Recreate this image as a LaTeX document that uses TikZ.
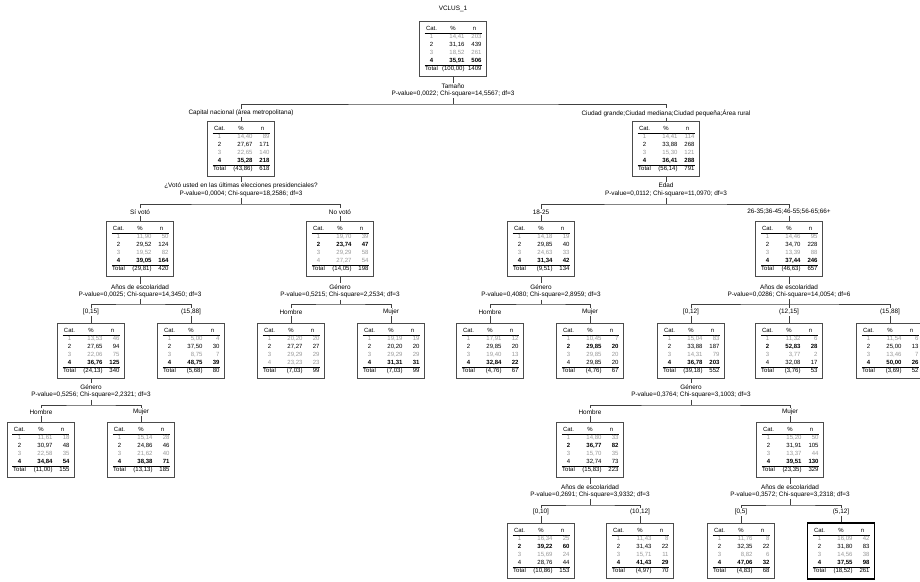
\documentclass[tikz,border=0pt]{standalone}
\usepackage{fontspec}
\setmainfont{Liberation Sans}
\usepackage{array}

\definecolor{catgray}{gray}{0.6}
\setlength{\tabcolsep}{1.5pt}

% rows of a node table: grey, black, bold
\newcommand{\rg}[3]{\textcolor{catgray}{#1} & \textcolor{catgray}{#2} & \textcolor{catgray}{#3}\\}
\newcommand{\rk}[3]{#1 & #2 & #3\\}
\newcommand{\rb}[3]{\textbf{#1} & \textbf{#2} & \textbf{#3}\\}
\newcommand{\cattab}[6]{%
  \begin{tabular}{@{}w{c}{14pt}w{r}{23pt}w{r}{14pt}@{}}
    Cat. & \multicolumn{1}{c}{\%} & \multicolumn{1}{c@{}}{n}\\\hline
    #1#2#3#4\hline
    Total & (#5) & #6
  \end{tabular}}

\tikzset{
  catnode/.style={draw=black!70, line width=0.9pt, fill=white, inner xsep=5pt, inner ysep=4pt,
    font=\fontsize{6}{7.8}\selectfont},
  lastnode/.style={catnode, draw=black, line width=1.8pt},
  splitlab/.style={align=center, inner sep=1pt, font=\fontsize{6.4}{7.6}\selectfont},
  brlab/.style={inner sep=1pt, font=\fontsize{6.4}{7.6}\selectfont},
  conn/.style={draw=black!75, line width=0.6pt}
}

\begin{document}
\begin{tikzpicture}[x=1pt,y=-1pt]
  \useasboundingbox (0,0) rectangle (920,581);
  % Title
  \node[brlab] (title) at (453,9) {VCLUS\_1};
  % Nodes
  \node[catnode] (n0) at (453,49) {\cattab{\rg{1}{14,41}{203}}{\rk{2}{31,16}{439}}{\rg{3}{18,52}{261}}{\rb{4}{35,91}{506}}{100,00}{1409}};
  \node[catnode] (n1) at (241,149) {\cattab{\rg{1}{14,40}{89}}{\rk{2}{27,67}{171}}{\rg{3}{22,65}{140}}{\rb{4}{35,28}{218}}{43,86}{618}};
  \node[catnode] (n2) at (666,149) {\cattab{\rg{1}{14,41}{114}}{\rk{2}{33,88}{268}}{\rg{3}{15,30}{121}}{\rb{4}{36,41}{288}}{56,14}{791}};
  \node[catnode] (n3) at (140,249) {\cattab{\rg{1}{11,90}{50}}{\rk{2}{29,52}{124}}{\rg{3}{19,52}{82}}{\rb{4}{39,05}{164}}{29,81}{420}};
  \node[catnode] (n4) at (340,249) {\cattab{\rg{1}{19,70}{39}}{\rb{2}{23,74}{47}}{\rg{3}{29,29}{58}}{\rg{4}{27,27}{54}}{14,05}{198}};
  \node[catnode] (n5) at (541,249) {\cattab{\rg{1}{14,18}{19}}{\rk{2}{29,85}{40}}{\rg{3}{24,63}{33}}{\rb{4}{31,34}{42}}{9,51}{134}};
  \node[catnode] (n6) at (789,249) {\cattab{\rg{1}{14,46}{95}}{\rk{2}{34,70}{228}}{\rg{3}{13,39}{88}}{\rb{4}{37,44}{246}}{46,63}{657}};
  \node[catnode] (n7) at (91,351) {\cattab{\rg{1}{13,53}{46}}{\rk{2}{27,65}{94}}{\rg{3}{22,06}{75}}{\rb{4}{36,76}{125}}{24,13}{340}};
  \node[catnode] (n8) at (191,351) {\cattab{\rg{1}{5,00}{4}}{\rk{2}{37,50}{30}}{\rg{3}{8,75}{7}}{\rb{4}{48,75}{39}}{5,68}{80}};
  \node[catnode] (n9) at (291,351) {\cattab{\rg{1}{20,20}{20}}{\rk{2}{27,27}{27}}{\rg{3}{29,29}{29}}{\rg{4}{23,23}{23}}{7,03}{99}};
  \node[catnode] (n10) at (391,351) {\cattab{\rg{1}{19,19}{19}}{\rk{2}{20,20}{20}}{\rg{3}{29,29}{29}}{\rb{4}{31,31}{31}}{7,03}{99}};
  \node[catnode] (n11) at (490,351) {\cattab{\rg{1}{17,91}{12}}{\rk{2}{29,85}{20}}{\rg{3}{19,40}{13}}{\rb{4}{32,84}{22}}{4,76}{67}};
  \node[catnode] (n12) at (590,351) {\cattab{\rg{1}{10,45}{7}}{\rb{2}{29,85}{20}}{\rg{3}{29,85}{20}}{\rk{4}{29,85}{20}}{4,76}{67}};
  \node[catnode] (n13) at (691,351) {\cattab{\rg{1}{15,04}{83}}{\rk{2}{33,88}{187}}{\rg{3}{14,31}{79}}{\rb{4}{36,78}{203}}{39,18}{552}};
  \node[catnode] (n14) at (789,351) {\cattab{\rg{1}{11,32}{6}}{\rb{2}{52,83}{28}}{\rg{3}{3,77}{2}}{\rk{4}{32,08}{17}}{3,76}{53}};
  \node[catnode] (n15) at (890,351) {\cattab{\rg{1}{11,54}{6}}{\rk{2}{25,00}{13}}{\rg{3}{13,46}{7}}{\rb{4}{50,00}{26}}{3,69}{52}};
  \node[catnode] (n16) at (41,450) {\cattab{\rg{1}{11,61}{18}}{\rk{2}{30,97}{48}}{\rg{3}{22,58}{35}}{\rb{4}{34,84}{54}}{11,00}{155}};
  \node[catnode] (n17) at (141,450) {\cattab{\rg{1}{15,14}{28}}{\rk{2}{24,86}{46}}{\rg{3}{21,62}{40}}{\rb{4}{38,38}{71}}{13,13}{185}};
  \node[catnode] (n18) at (590,450) {\cattab{\rg{1}{14,80}{33}}{\rb{2}{36,77}{82}}{\rg{3}{15,70}{35}}{\rk{4}{32,74}{73}}{15,83}{223}};
  \node[catnode] (n19) at (790,450) {\cattab{\rg{1}{15,20}{50}}{\rk{2}{31,91}{105}}{\rg{3}{13,37}{44}}{\rb{4}{39,51}{130}}{23,35}{329}};
  \node[catnode] (n20) at (541,551) {\cattab{\rg{1}{16,34}{25}}{\rb{2}{39,22}{60}}{\rg{3}{15,69}{24}}{\rk{4}{28,76}{44}}{10,86}{153}};
  \node[catnode] (n21) at (640,551) {\cattab{\rg{1}{11,43}{8}}{\rk{2}{31,43}{22}}{\rg{3}{15,71}{11}}{\rb{4}{41,43}{29}}{4,97}{70}};
  \node[catnode] (n22) at (741,551) {\cattab{\rg{1}{11,76}{8}}{\rk{2}{32,35}{22}}{\rg{3}{8,82}{6}}{\rb{4}{47,06}{32}}{4,83}{68}};
  \node[lastnode] (n23) at (841,551) {\cattab{\rg{1}{16,09}{42}}{\rk{2}{31,80}{83}}{\rg{3}{14,56}{38}}{\rb{4}{37,55}{98}}{18,52}{261}};
  % Split labels
  \node[splitlab] (s0) at (453,90.5) {Tamaño\\P-value=0,0022; Chi-square=14,5567; df=3};
  \node[splitlab] (s1) at (241,190) {¿Votó usted en las últimas elecciones presidenciales?\\P-value=0,0004; Chi-square=18,2586; df=3};
  \node[splitlab] (s2) at (666,190) {Edad\\P-value=0,0112; Chi-square=11,0970; df=3};
  \node[splitlab] (s3) at (140,291.5) {Años de escolaridad\\P-value=0,0025; Chi-square=14,3450; df=3};
  \node[splitlab] (s4) at (340,291.5) {Género\\P-value=0,5215; Chi-square=2,2534; df=3};
  \node[splitlab] (s5) at (541,291.5) {Género\\P-value=0,4080; Chi-square=2,8959; df=3};
  \node[splitlab] (s6) at (789,291.5) {Años de escolaridad\\P-value=0,0286; Chi-square=14,0054; df=6};
  \node[splitlab] (s7) at (91,391.5) {Género\\P-value=0,5256; Chi-square=2,2321; df=3};
  \node[splitlab] (s13) at (691,391.5) {Género\\P-value=0,3764; Chi-square=3,1003; df=3};
  \node[splitlab] (s18) at (590,491.5) {Años de escolaridad\\P-value=0,2691; Chi-square=3,9332; df=3};
  \node[splitlab] (s19) at (790,491.5) {Años de escolaridad\\P-value=0,3572; Chi-square=3,2318; df=3};
  % Branch labels
  \node[brlab] (b1) at (241,113) {Capital nacional (área metropolitana)};
  \node[brlab] (b2) at (666,113) {Ciudad grande;Ciudad mediana;Ciudad pequeña;Área rural};
  \node[brlab] (b3) at (140,212) {Sí votó};
  \node[brlab] (b4) at (340,212) {No votó};
  \node[brlab] (b5) at (541,212) {18-25};
  \node[brlab] (b6) at (789,212) {26-35;36-45;46-55;56-65;66+};
  \node[brlab] (b7) at (91,312) {[0,15]};
  \node[brlab] (b8) at (191,312) {(15,88]};
  \node[brlab] (b9) at (291,312) {Hombre};
  \node[brlab] (b10) at (391,312) {Mujer};
  \node[brlab] (b11) at (490,312) {Hombre};
  \node[brlab] (b12) at (590,312) {Mujer};
  \node[brlab] (b13) at (691,312) {[0,12]};
  \node[brlab] (b14) at (789,312) {(12,15]};
  \node[brlab] (b15) at (890,312) {(15,88]};
  \node[brlab] (b16) at (41,412) {Hombre};
  \node[brlab] (b17) at (141,412) {Mujer};
  \node[brlab] (b18) at (590,412) {Hombre};
  \node[brlab] (b19) at (790,412) {Mujer};
  \node[brlab] (b20) at (541,512) {[0,10]};
  \node[brlab] (b21) at (640,512) {(10,12]};
  \node[brlab] (b22) at (741,512) {[0,5]};
  \node[brlab] (b23) at (841,512) {(5,12]};
  % Bars
  \coordinate (k0) at (453,104);
  \coordinate (k1) at (241,204);
  \coordinate (k2) at (666,204);
  \coordinate (k3) at (140,304);
  \coordinate (k4) at (340,304);
  \coordinate (k5) at (541,304);
  \coordinate (k6) at (789,304);
  \coordinate (k7) at (91,405);
  \coordinate (k13) at (691,405);
  \coordinate (k18) at (590,505);
  \coordinate (k19) at (790,505);
  % Connectors
  \foreach \p in {0,1,2,3,4,5,6,7,13,18,19} {
    \draw[conn] (n\p.south) -- (s\p.north);
    \draw[conn] (s\p.south) -- (k\p);
  }
  \foreach \k/\a/\z in {0/1/2, 1/3/4, 2/5/6, 3/7/8, 4/9/10, 5/11/12, 6/13/15, 7/16/17, 13/18/19, 18/20/21, 19/22/23}
    \draw[conn] (b\a.north) |- (k\k) -| (b\z.north);
  \draw[conn] (k6) -- (b14.north);
  \foreach \c in {1,...,23}
    \draw[conn] (b\c.south) -- (n\c.north);
\end{tikzpicture}
\end{document}
